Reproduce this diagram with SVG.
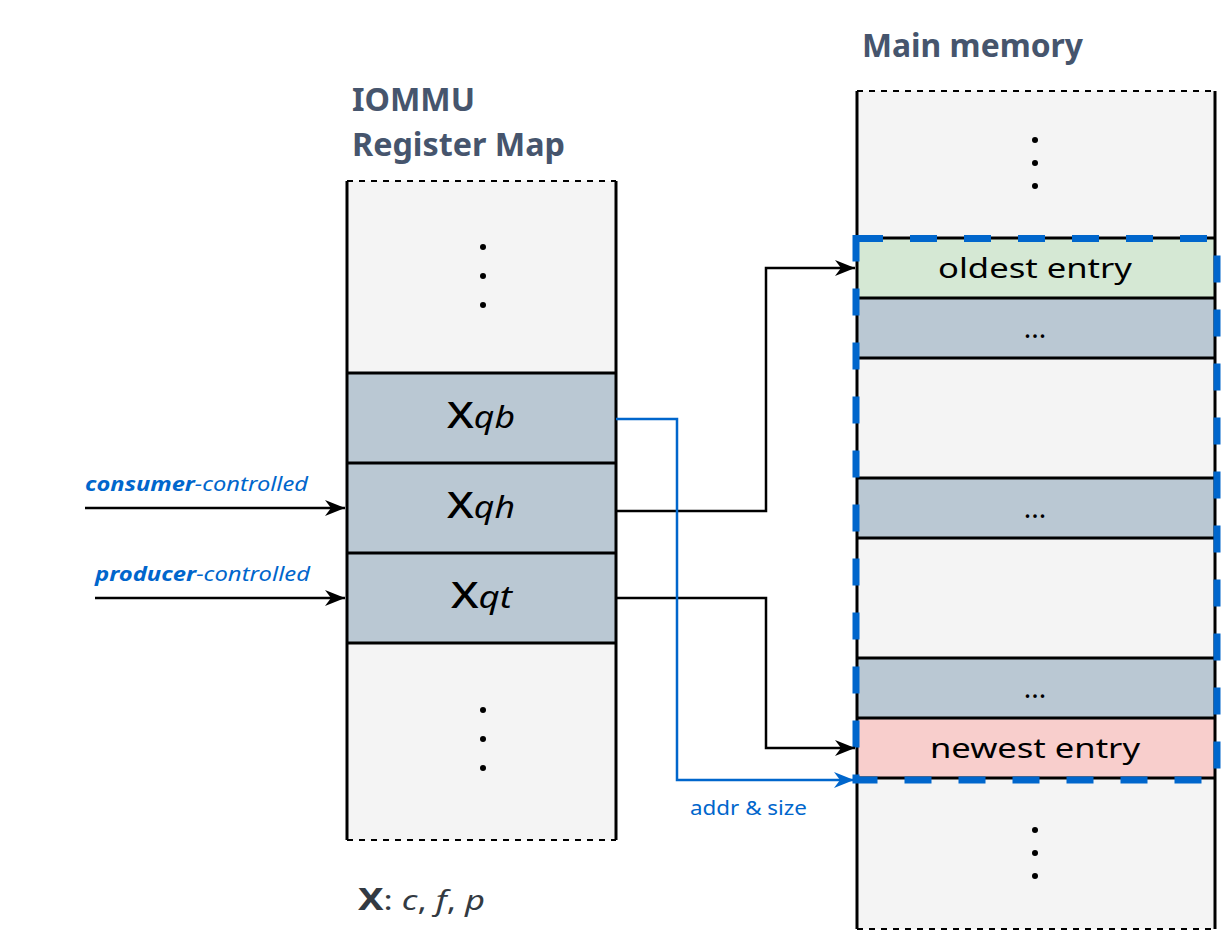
<svg xmlns="http://www.w3.org/2000/svg" width="1221" height="951" viewBox="0 0 1221 951">
<style>
.title{font-family:"Noto Sans",Lato,sans-serif;font-weight:bold;font-size:33px;fill:#46556d}
.reg{font-family:"Noto Sans",sans-serif;font-size:37px;font-weight:500;fill:#000}
.sub{font-style:italic;font-weight:normal;font-size:30px}
.ent{font-family:"Noto Sans",sans-serif;font-size:28px;fill:#000;text-anchor:middle}
.lbl{font-family:"Noto Sans",sans-serif;font-style:italic;font-size:20px;fill:#0066cc}
.side{stroke:#000;stroke-width:3;fill:none}
.dash{stroke:#000;stroke-width:2;stroke-dasharray:6 6;fill:none}
.row{stroke:#000;stroke-width:3}
.conn{stroke:#000;stroke-width:2.5;fill:none}
</style>
<defs>
<marker id="ah" viewBox="0 0 20 16" refX="20" refY="8" markerWidth="20" markerHeight="16" markerUnits="userSpaceOnUse" orient="auto"><path d="M0,0 L20,8 L0,16 L6,8 Z" fill="#000"/></marker>
<marker id="ahb" viewBox="0 0 20 16" refX="20" refY="8" markerWidth="20" markerHeight="16" markerUnits="userSpaceOnUse" orient="auto"><path d="M0,0 L20,8 L0,16 L6,8 Z" fill="#0066cc"/></marker>
</defs>
<rect width="1221" height="951" fill="#fff"/>

<g id="titles">
<text class="title" x="352" y="111" textLength="123" lengthAdjust="spacingAndGlyphs">IOMMU</text>
<text class="title" x="352" y="156" textLength="213" lengthAdjust="spacingAndGlyphs">Register Map</text>
<text class="title" x="862" y="57" textLength="221" lengthAdjust="spacingAndGlyphs">Main memory</text>
</g>

<g id="register-map">
<rect x="347" y="181" width="269" height="659" fill="#f4f4f4"/>
<rect x="347" y="373" width="269" height="270" fill="#bac8d3"/>
<line class="dash" x1="347" y1="181" x2="616" y2="181"/>
<line class="dash" x1="347" y1="840" x2="616" y2="840"/>
<line class="side" x1="347" y1="181" x2="347" y2="840"/>
<line class="side" x1="616" y1="181" x2="616" y2="840"/>
<line class="row" x1="347" y1="373" x2="616" y2="373"/>
<line class="row" x1="347" y1="463" x2="616" y2="463"/>
<line class="row" x1="347" y1="553" x2="616" y2="553"/>
<line class="row" x1="347" y1="643" x2="616" y2="643"/>
<g fill="#000"><circle cx="483" cy="247" r="3"/><circle cx="483" cy="276" r="3"/><circle cx="483" cy="305" r="3"/><circle cx="483" cy="710" r="3"/><circle cx="483" cy="739" r="3"/><circle cx="483" cy="768" r="3"/></g>
</g>
<g id="xqb"><text class="reg" x="447" y="428" textLength="68" lengthAdjust="spacingAndGlyphs">X<tspan class="sub">qb</tspan></text></g>
<g id="xqh"><text class="reg" x="447" y="518" textLength="68" lengthAdjust="spacingAndGlyphs">X<tspan class="sub">qh</tspan></text></g>
<g id="xqt"><text class="reg" x="451" y="608" textLength="61" lengthAdjust="spacingAndGlyphs">X<tspan class="sub">qt</tspan></text></g>

<g id="main-memory">
<rect x="857" y="91" width="358" height="838" fill="#f4f4f4"/>
<rect x="857" y="238" width="358" height="60" fill="#d5e8d4"/>
<rect x="857" y="298" width="358" height="60" fill="#bac8d3"/>
<rect x="857" y="478" width="358" height="60" fill="#bac8d3"/>
<rect x="857" y="658" width="358" height="60" fill="#bac8d3"/>
<rect x="857" y="718" width="358" height="60" fill="#f8cecc"/>
<line class="dash" x1="857" y1="91" x2="1215" y2="91"/>
<line class="dash" x1="857" y1="929" x2="1215" y2="929"/>
<line class="side" x1="857" y1="91" x2="857" y2="929"/>
<line class="side" x1="1215" y1="91" x2="1215" y2="929"/>
<line class="row" x1="857" y1="238" x2="1215" y2="238"/>
<line class="row" x1="857" y1="298" x2="1215" y2="298"/>
<line class="row" x1="857" y1="358" x2="1215" y2="358"/>
<line class="row" x1="857" y1="478" x2="1215" y2="478"/>
<line class="row" x1="857" y1="538" x2="1215" y2="538"/>
<line class="row" x1="857" y1="658" x2="1215" y2="658"/>
<line class="row" x1="857" y1="718" x2="1215" y2="718"/>
<line class="row" x1="857" y1="778" x2="1215" y2="778"/>
<g fill="#000"><circle cx="1035" cy="140" r="3"/><circle cx="1035" cy="163" r="3"/><circle cx="1035" cy="186" r="3"/><circle cx="1035" cy="830" r="3"/><circle cx="1035" cy="853" r="3"/><circle cx="1035" cy="876" r="3"/></g>
</g>
<g id="oldest"><text class="ent" x="1035" y="278" textLength="194" lengthAdjust="spacingAndGlyphs">oldest entry</text></g>
<g id="mid1"><text class="ent" x="1035" y="338">...</text></g>
<g id="mid2"><text class="ent" x="1035" y="518">...</text></g>
<g id="mid3"><text class="ent" x="1035" y="698">...</text></g>
<g id="newest"><text class="ent" x="1035" y="758" textLength="210" lengthAdjust="spacingAndGlyphs">newest entry</text></g>

<g id="queue-region"><path d="M856,238.5 H1217 V780 H856 Z" fill="none" stroke="#0066cc" stroke-width="7" stroke-dasharray="27 27"/></g>

<g id="connectors">
<path class="conn" d="M85,508 H345" marker-end="url(#ah)"/>
<path class="conn" d="M95,598 H345" marker-end="url(#ah)"/>
<path class="conn" d="M616,511 H766 V268 H855" marker-end="url(#ah)"/>
<path class="conn" d="M616,598 H766 V748 H855" marker-end="url(#ah)"/>
<path d="M616,419 H677 V780 H854" fill="none" stroke="#0066cc" stroke-width="2.5" marker-end="url(#ahb)"/>
<text class="lbl" x="85" y="491" textLength="223" lengthAdjust="spacingAndGlyphs"><tspan font-weight="bold">consumer</tspan>-controlled</text>
<text class="lbl" x="95" y="581" textLength="215" lengthAdjust="spacingAndGlyphs"><tspan font-weight="bold">producer</tspan>-controlled</text>
<text x="690" y="815" font-family="'Noto Sans',sans-serif" font-size="20" fill="#0066cc" textLength="117" lengthAdjust="spacingAndGlyphs">addr &amp; size</text>
</g>

<g id="legend"><text x="358" y="910" font-family="'Noto Sans',sans-serif" font-size="28" fill="#333a42" textLength="127" lengthAdjust="spacingAndGlyphs"><tspan font-size="31" font-weight="bold">X</tspan>: <tspan font-style="italic">c</tspan>, <tspan font-style="italic">f</tspan>, <tspan font-style="italic">p</tspan></text></g>
</svg>
